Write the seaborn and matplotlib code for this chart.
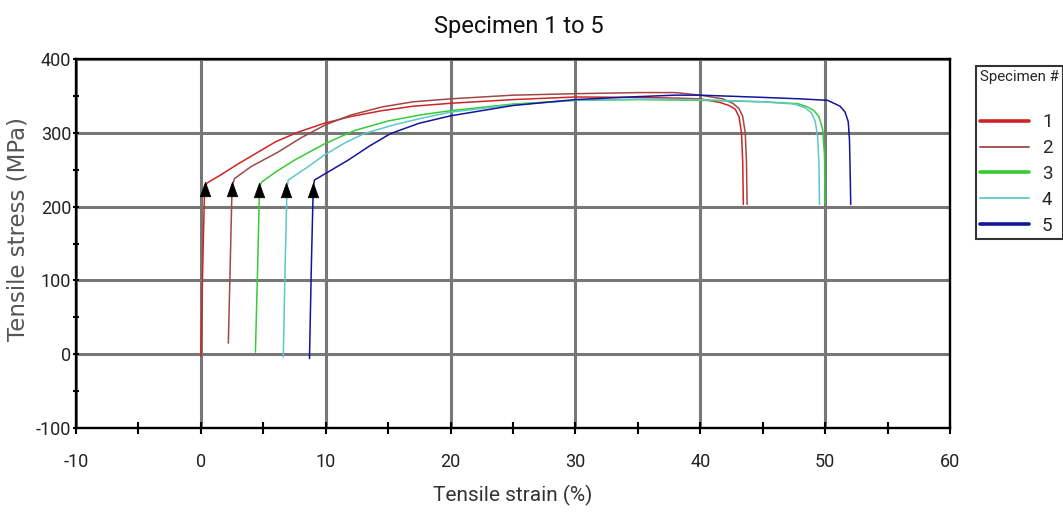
import matplotlib
matplotlib.use("Agg")
import matplotlib.pyplot as plt
from matplotlib.lines import Line2D
from matplotlib.ticker import MultipleLocator
import seaborn as sns
import pandas as pd

sns.set_style("white")
NARROW = ['Roboto', 'DejaVu Sans']
plt.rcParams['font.family'] = NARROW
plt.rcParams['axes.unicode_minus'] = False

# ---- data ----
specimens = ["1", "2", "3", "4", "5"]

s1_strain = [0.0, 0.15, 0.3, 0.5, 1.5, 3.0, 4.6, 6.0, 7.8, 9.9, 12.0, 14.5, 17.0, 20.0, 25.0, 30.0, 35.0, 38.0, 40.0, 41.6, 42.3, 42.8, 43.1, 43.3, 43.4, 43.45]
s1_stress = [-3, 120, 225, 232, 242, 258, 274, 288, 301, 313, 322, 330, 336, 340, 345, 348.5, 348, 347, 346, 341, 337, 332, 322, 300, 260, 203]

s2_strain = [2.2, 2.35, 2.5, 2.7, 4.0, 6.2, 8.0, 10.0, 12.0, 14.5, 17.0, 20.0, 25.0, 30.0, 35.0, 38.0, 40.0, 41.8, 42.6, 43.1, 43.4, 43.6, 43.7, 43.75]
s2_stress = [15, 120, 228, 238, 254, 274, 293, 311, 324, 335, 342, 346, 351, 353, 354.5, 354.5, 351, 346, 340, 333, 322, 300, 260, 203]

s3_strain = [4.37, 4.55, 4.7, 4.85, 6.0, 7.5, 9.9, 12.3, 15.0, 17.5, 20.0, 25.0, 30.0, 35.0, 40.0, 45.0, 47.8, 48.6, 49.1, 49.5, 49.8, 49.95, 50.0]
s3_stress = [3, 120, 226, 233, 247, 263, 285, 303, 316, 324, 330, 339, 344, 345, 344, 342, 339.5, 335, 330, 322, 305, 270, 203]

s4_strain = [6.6, 6.75, 6.9, 7.0, 8.5, 9.9, 11.5, 13.1, 15.5, 18.0, 20.0, 25.0, 30.0, 35.0, 40.0, 45.0, 47.5, 48.4, 48.9, 49.2, 49.4, 49.5, 49.55]
s4_stress = [-4, 120, 226, 236, 253, 270, 286, 299, 311, 321, 328, 338, 344, 345.5, 345, 342, 339, 334, 327, 316, 295, 260, 203]

s5_strain = [8.7, 8.85, 9.0, 9.1, 10.5, 11.8, 13.5, 15.2, 17.5, 20.0, 25.0, 30.0, 35.0, 38.0, 40.0, 45.0, 48.0, 50.2, 51.2, 51.6, 51.85, 51.95, 52.0, 52.05]
s5_stress = [-6, 120, 226, 236, 250, 263, 282, 299, 313, 323, 337, 345, 349, 351, 351, 348, 346, 344, 336, 328, 315, 290, 250, 203]

arrow_strain = [0.37, 2.5, 4.67, 6.85, 9.0]
arrow_stress = [224, 224, 223, 223, 223]

colors = ["#d02424", "#a04848", "#36cc36", "#5cc8c8", "#14149c"]
legend_widths = [2.6, 1.3, 2.6, 1.3, 2.6]

strains = [s1_strain, s2_strain, s3_strain, s4_strain, s5_strain]
stresses = [s1_stress, s2_stress, s3_stress, s4_stress, s5_stress]

rows = []
for name, xs, ys in zip(specimens, strains, stresses):
    for i, (x, y) in enumerate(zip(xs, ys)):
        rows.append({"Specimen": name, "order": i, "strain": x, "stress": y})
df = pd.DataFrame(rows)
arrows = pd.DataFrame({"strain": arrow_strain, "stress": arrow_stress})

# ---- figure ----
W, H = 1063, 516
fig = plt.figure(figsize=(W / 100, H / 100), dpi=100)
L, R, T, B = 76, 950, 59, 428
ax = fig.add_axes([L / W, 1 - B / H, (R - L) / W, (B - T) / H])

ax.set_axisbelow(True)
ax.grid(True, which="major", color="#777777", linewidth=2.2)

for name, col in zip(specimens, colors):
    sns.lineplot(data=df[df["Specimen"] == name], x="strain", y="stress",
                 sort=False, estimator=None, color=col, linewidth=1.1,
                 ax=ax, legend=False, zorder=3)

arrow_marker = [(-3.6, -5.0), (3.6, -5.0), (0.0, 5.0), (-3.6, -5.0)]
sns.scatterplot(data=arrows, x="strain", y="stress", marker=arrow_marker,
                s=110, color="black", edgecolor="black", linewidth=0.5,
                ax=ax, legend=False, zorder=4)

ax.set_xlim(-10, 60)
ax.set_ylim(-100, 400)
ax.xaxis.set_major_locator(MultipleLocator(10))
ax.xaxis.set_minor_locator(MultipleLocator(5))
ax.yaxis.set_major_locator(MultipleLocator(100))
ax.yaxis.set_minor_locator(MultipleLocator(50))

for sp in ax.spines.values():
    sp.set_color("black")
    sp.set_linewidth(1.7)
    sp.set_visible(True)

ax.tick_params(axis="x", which="both", direction="inout", length=8, width=1.5,
               color="black", pad=14, labelsize=13, labelcolor="#222222")
ax.tick_params(axis="y", which="both", direction="inout", length=5, width=1.5,
               color="black", pad=1, labelsize=13, labelcolor="#222222")
ax.tick_params(which="both", bottom=True, left=True, top=False, right=False)

ax.set_xlabel("Tensile strain (%)", fontsize=15, color="#333333")
ax.xaxis.set_label_coords(0.5, -0.155)
ax.set_ylabel("Tensile stress (MPa)", fontsize=16.5, color="#555555",
              family=['DejaVu Sans'])
ax.yaxis.set_label_coords(-0.053, 0.54)

fig.text(519 / W, 1 - 26 / H, "Specimen 1 to 5", ha="center", va="center",
         fontsize=17, color="#111111")

handles = [Line2D([0], [0], color=c, linewidth=w) for c, w in zip(colors, legend_widths)]
leg = fig.legend(handles, specimens, title="Specimen #", loc="upper left",
                 bbox_to_anchor=(976 / W, 1 - 66 / H), frameon=True,
                 fancybox=False, fontsize=13.5, title_fontsize=10.8,
                 handlelength=2.6, handletextpad=0.7, labelspacing=0.42,
                 borderpad=0.22, borderaxespad=0.0, alignment="left")
leg._legend_box.sep = 21
leg.get_frame().set_edgecolor("black")
leg.get_frame().set_linewidth(1.5)

fig.savefig("out.png", dpi=100)
